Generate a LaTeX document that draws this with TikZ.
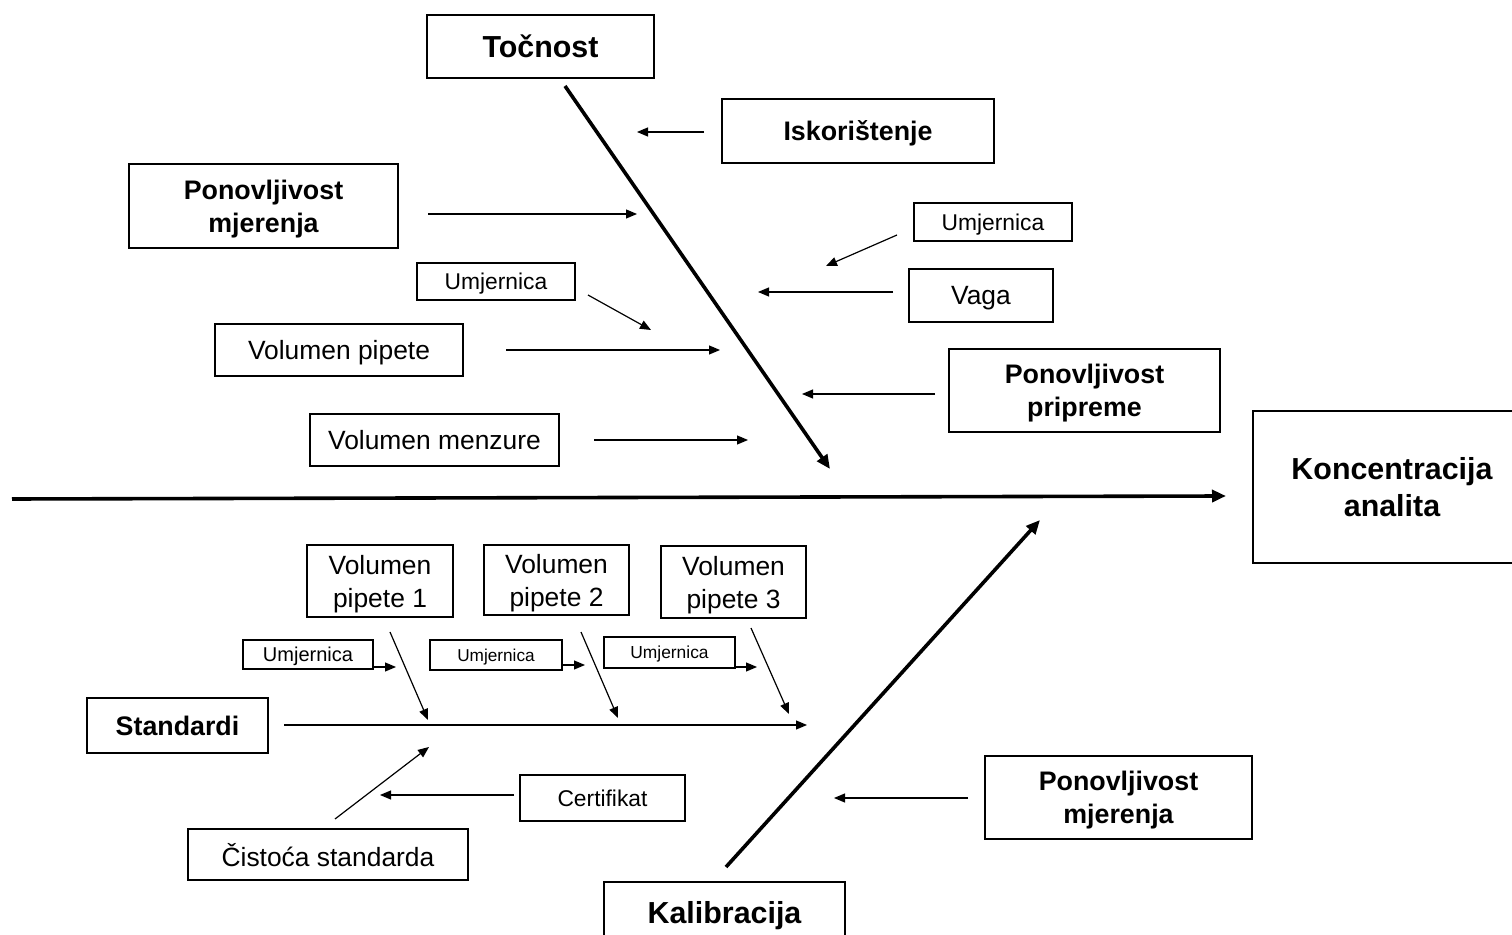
\documentclass[tikz,border=0pt]{standalone}
\usepackage{fontspec}
\setmainfont{Liberation Sans}
\usepackage{tikz}
\usetikzlibrary {arrows.meta}

\tikzset{
  box/.style={draw, line width=1pt, inner sep=0pt, align=center, text depth=0pt},
  bigbox/.style={box, font=\bfseries\fontsize{15.2}{18.5}\selectfont},
  boldbox/.style={box, font=\bfseries\fontsize{13.4}{16.5}\selectfont},
  plainbox/.style={box, font=\fontsize{13.2}{16.5}\selectfont},
  smallbox/.style={box, font=\fontsize{11.4}{14}\selectfont},
  arr/.style={line width=0.6pt, -{Triangle[length=5.5pt,width=4.5pt]}},
  bone/.style={line width=1.8pt, -{Triangle[length=7pt,width=6pt]}},
}

\begin{document}
\begin{tikzpicture}[x=0.5pt, y=-0.5pt]
  \useasboundingbox (0,0) rectangle (1512,935);

  % boxes
  \node[bigbox, minimum width=113.5pt, minimum height=31.5pt] (tocnost) at (540.5,46.5) {Točnost};
  \node[boldbox, minimum width=136pt, minimum height=32pt] (iskor) at (858,131) {Iskorištenje};
  \node[boldbox, minimum width=134.5pt, minimum height=42pt] (ponmj) at (263.5,206) {Ponovljivost\\mjerenja};
  \node[smallbox, minimum width=79pt, minimum height=19pt] (umjA) at (993,222) {Umjernica};
  \node[plainbox, minimum width=72pt, minimum height=26.5pt] (vaga) at (981,295.5) {Vaga};
  \node[smallbox, minimum width=79pt, minimum height=18.5pt] (umjB) at (496,281.5) {Umjernica};
  \node[plainbox, minimum width=124pt, minimum height=26pt] (volpip) at (339,350) {Volumen pipete};
  \node[boldbox, minimum width=135.5pt, minimum height=41.5pt] (ponpr) at (1084.5,390.5) {Ponovljivost\\pripreme};
  \node[plainbox, minimum width=124.5pt, minimum height=26pt] (volmenz) at (434.5,440) {Volumen menzure};
  \node[bigbox, minimum width=139pt, minimum height=76pt] (konc) at (1392,487) {Koncentracija\\analita};

  \node[plainbox, minimum width=73pt, minimum height=36pt] (vp1) at (380,581) {Volumen\\pipete 1};
  \node[plainbox, minimum width=72.5pt, minimum height=35pt] (vp2) at (556.5,580) {Volumen\\pipete 2};
  \node[plainbox, minimum width=72.5pt, minimum height=36pt] (vp3) at (733.5,582) {Volumen\\pipete 3};
  \node[box, font=\fontsize{10}{12}\selectfont, minimum width=65pt, minimum height=14.5pt] (u1) at (308,654.5) {Umjernica};
  \node[box, font=\fontsize{8.6}{10}\selectfont, minimum width=66pt, minimum height=15pt] (u2) at (496,655) {Umjernica};
  \node[box, font=\fontsize{8.7}{10}\selectfont, minimum width=65.5pt, minimum height=15.5pt] (u3) at (669.5,652.5) {Umjernica};
  \node[boldbox, minimum width=90.5pt, minimum height=27.5pt] (stand) at (177.5,725.5) {Standardi};
  \node[smallbox, minimum width=82.5pt, minimum height=23pt] (cert) at (602.5,798) {Certifikat};
  \node[plainbox, minimum width=140pt, minimum height=25.5pt] (cist) at (328,854.5) {Čistoća standarda};
  \node[boldbox, minimum width=133.5pt, minimum height=41.5pt] (ponmjB) at (1118.5,797.5) {Ponovljivost\\mjerenja};
  \node[bigbox, minimum width=120.5pt, minimum height=30pt] (kalib) at (724.5,912) {Kalibracija};

  % spine and bones
  \coordinate (spineL) at (12,499);
  \coordinate (spineR) at (1226,496);
  \coordinate (tocEnd) at (830,469);
  \coordinate (kalEnd) at (1040,520);
  \draw[bone] (spineL) -- (spineR);
  \draw[bone] (565,86) -- (tocEnd);
  \draw[bone] (726,867) -- (kalEnd);

  % upper causes
  \draw[arr] (704,132) -- (637,132);
  \draw[arr] (428,214) -- (637,214);
  \draw[arr] (897,235) -- (826,266);
  \draw[arr] (893,292) -- (758,292);
  \draw[arr] (588,295) -- (651,330);
  \draw[arr] (506,350) -- (720,350);
  \draw[arr] (935,394) -- (802,394);
  \draw[arr] (594,440) -- (748,440);

  % standardi
  \draw[arr] (284,725) -- (807,725);
  \draw[arr] (390,632) -- (428,720);
  \draw[arr] (581,632) -- (618,718);
  \draw[arr] (751,628) -- (789,714);
  \draw[arr] (u1.east |- 0,667) -- (396,667);
  \draw[arr] (u2.east |- 0,665) -- (585,665);
  \draw[arr] (u3.east |- 0,667) -- (757,667);
  \draw[arr] (335,819) -- (429,747);
  \draw[arr] (514,795) -- (380,795);

  % kalibracija
  \draw[arr] (968,798) -- (834,798);
\end{tikzpicture}
\end{document}
